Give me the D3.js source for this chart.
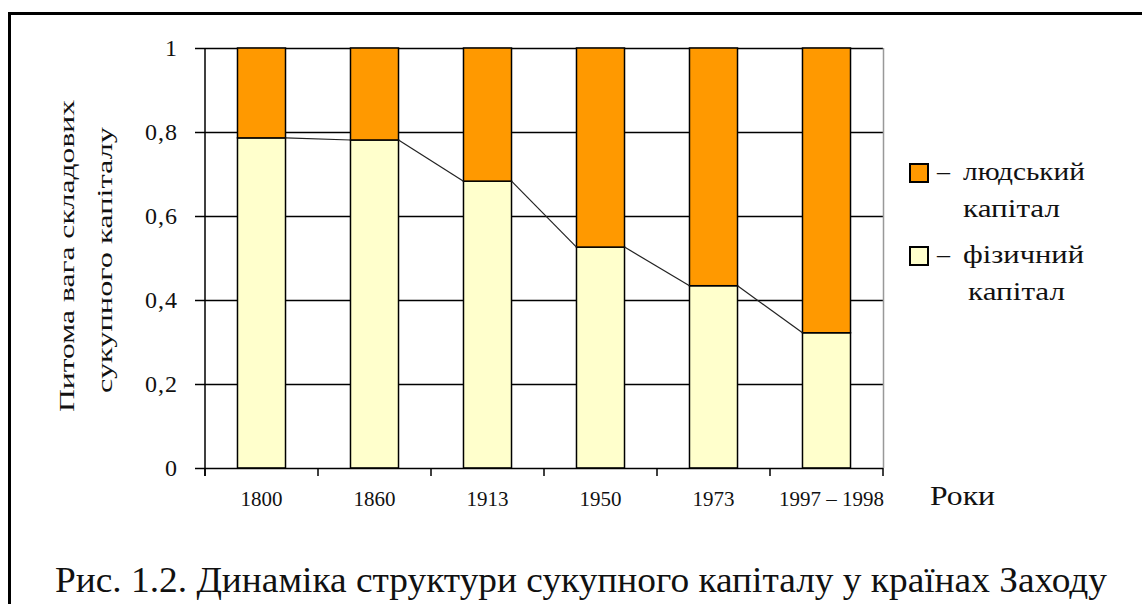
<!DOCTYPE html>
<html>
<head>
<meta charset="utf-8">
<script src="https://cdn.jsdelivr.net/npm/d3@7"></script>
<style>
  body { margin: 0; background: #fff; }
  svg { display: block; }
  text { font-family: "Liberation Serif", "Times New Roman", serif; fill: #111; }
</style>
</head>
<body>
<svg id="chart" width="1142" height="604"></svg>
<script>
// data
var years = ["1800", "1860", "1913", "1950", "1973", "1997 – 1998"];
var physical = [0.786, 0.781, 0.683, 0.526, 0.434, 0.322];
var human = [0.214, 0.219, 0.317, 0.474, 0.566, 0.678];
var yTicks = [0, 0.2, 0.4, 0.6, 0.8, 1];
var yTickLabels = ["0", "0,2", "0,4", "0,6", "0,8", "1"];
var legendNames = [["людський", "капітал"], ["фізичний", "капітал"]];
var colors = ["#FF9900", "#FFFFCC"];

(function()
{
	var svg = d3.select("#chart");

	var plotLeft = 205, plotRight = 883, plotTop = 48, plotBottom = 468;

	var x = d3.scaleBand()
		.domain(years)
		.range([plotLeft, plotRight])
		.paddingInner(0.575)
		.paddingOuter(0.2875);

	var slot = d3.scaleBand()
		.domain(years)
		.range([plotLeft, plotRight])
		.padding(0);

	var y = d3.scaleLinear()
		.domain([0, 1])
		.range([plotBottom, plotTop]);

	// outer frame (top and left only)
	svg.append("line")
		.attr("x1", 8).attr("y1", 13.5).attr("x2", 1142).attr("y2", 13.5)
		.attr("stroke", "#000").attr("stroke-width", 3);
	svg.append("line")
		.attr("x1", 9.5).attr("y1", 12).attr("x2", 9.5).attr("y2", 604)
		.attr("stroke", "#000").attr("stroke-width", 3);

	// gridlines
	svg.append("g")
		.selectAll("line")
		.data(yTicks.slice(1))
		.enter().append("line")
		.attr("x1", plotLeft).attr("x2", plotRight)
		.attr("y1", function(d) { return Math.round(y(d)) + 0.5; })
		.attr("y2", function(d) { return Math.round(y(d)) + 0.5; })
		.attr("stroke", "#000")
		.attr("stroke-width", 1.5);

	// right edge of the plot
	svg.append("line")
		.attr("x1", plotRight + 0.5).attr("x2", plotRight + 0.5)
		.attr("y1", plotTop).attr("y2", plotBottom)
		.attr("stroke", "#999").attr("stroke-width", 1.5);

	// stacked bars
	var stackData = years.map(function(yr, i) {
		return { year: yr, physical: physical[i], human: human[i] };
	});
	var series = d3.stack().keys(["physical", "human"])(stackData);
	var fillFor = { physical: colors[1], human: colors[0] };

	svg.append("g")
		.selectAll("g")
		.data(series)
		.enter().append("g")
		.attr("fill", function(s) { return fillFor[s.key]; })
		.selectAll("rect")
		.data(function(s) { return s; })
		.enter().append("rect")
		.attr("x", function(d) { return x(d.data.year); })
		.attr("width", x.bandwidth())
		.attr("y", function(d) { return y(d[1]); })
		.attr("height", function(d) { return y(d[0]) - y(d[1]); })
		.attr("stroke", "#000")
		.attr("stroke-width", 1.5);

	// series lines between bar tops
	for (var i = 0; i < years.length - 1; i++)
	{
		svg.append("line")
			.attr("x1", x(years[i]) + x.bandwidth())
			.attr("y1", y(physical[i]))
			.attr("x2", x(years[i + 1]))
			.attr("y2", y(physical[i + 1]))
			.attr("stroke", "#222")
			.attr("stroke-width", 1.2);
	}

	// y axis
	var yAxis = d3.axisLeft(y)
		.tickValues(yTicks)
		.tickSize(10)
		.tickPadding(12)
		.tickFormat(function(d, i) { return yTickLabels[i]; });

	var gy = svg.append("g")
		.attr("transform", "translate(" + plotLeft + ",0)")
		.call(yAxis);
	gy.attr("font-family", null).attr("font-size", null);
	gy.select(".domain").attr("stroke", "#000").attr("stroke-width", 1.5)
		.attr("d", "M0," + plotTop + "V" + (plotBottom + 8));
	gy.selectAll(".tick line").attr("stroke", "#000").attr("stroke-width", 1.5);
	gy.selectAll(".tick text")
		.style("font-size", "24px")
		.attr("fill", "#1a1a2a")
		.attr("dx", -5)
		.attr("letter-spacing", 1);

	// x axis
	var gx = svg.append("g")
		.attr("transform", "translate(0," + plotBottom + ")");
	gx.append("line")
		.attr("x1", plotLeft).attr("x2", plotRight)
		.attr("y1", 0.5).attr("y2", 0.5)
		.attr("stroke", "#000").attr("stroke-width", 1.5);
	gx.selectAll(".bound")
		.data(years.concat(["end"]))
		.enter().append("line")
		.attr("class", "bound")
		.attr("x1", function(d, i) { return i < years.length ? slot(d) : plotRight; })
		.attr("x2", function(d, i) { return i < years.length ? slot(d) : plotRight; })
		.attr("y1", 0).attr("y2", 8)
		.attr("stroke", "#000").attr("stroke-width", 1.5);
	gx.selectAll(".lbl")
		.data(years)
		.enter().append("text")
		.attr("class", "lbl")
		.attr("x", function(d, i) { return slot(d) + slot.bandwidth() / 2 + (i == years.length - 1 ? 5 : 0); })
		.attr("y", 38)
		.attr("text-anchor", "middle")
		.style("font-size", "21px")
		.attr("fill", "#1a1a2a")
		.text(function(d) { return d; });

	svg.append("text")
		.attr("x", 930).attr("y", 505)
		.style("font-size", "27px")
		.attr("textLength", 65)
		.attr("lengthAdjust", "spacingAndGlyphs")
		.text("Роки");

	// y axis title
	var title = svg.append("text")
		.attr("transform", "translate(74,256) rotate(-90)")
		.attr("text-anchor", "middle")
		.style("font-size", "22px");
	title.append("tspan").attr("x", 0).attr("y", 0)
		.attr("textLength", 312)
		.attr("lengthAdjust", "spacingAndGlyphs")
		.text("Питома вага складових");
	title.append("tspan").attr("x", -4).attr("y", 38)
		.attr("textLength", 266)
		.attr("lengthAdjust", "spacingAndGlyphs")
		.text("сукупного капіталу");

	// legend
	var legendTops = [164, 247];
	var legendLens = [[122, 97], [121, 97]];
	legendNames.forEach(function(names, i) {
		var g = svg.append("g").attr("transform", "translate(910," + legendTops[i] + ")");
		g.append("rect")
			.attr("x", 0).attr("y", 0).attr("width", 18).attr("height", 18)
			.attr("fill", colors[i]).attr("stroke", "#000").attr("stroke-width", 2);
		g.append("text")
			.attr("x", 27).attr("y", 16)
			.style("font-size", "26px")
			.text("–");
		g.append("text")
			.attr("x", 53).attr("y", 16)
			.style("font-size", "26px")
			.attr("textLength", legendLens[i][0])
			.attr("lengthAdjust", "spacingAndGlyphs")
			.text(names[0]);
		g.append("text")
			.attr("x", 53 + i * 5).attr("y", 53)
			.style("font-size", "26px")
			.attr("textLength", legendLens[i][1])
			.attr("lengthAdjust", "spacingAndGlyphs")
			.text(names[1]);
	});

	// caption
	svg.append("text")
		.attr("x", 55).attr("y", 592)
		.style("font-size", "35px")
		.attr("textLength", 1052)
		.attr("lengthAdjust", "spacingAndGlyphs")
		.attr("fill", "#000")
		.text("Рис. 1.2. Динаміка структури сукупного капіталу у країнах Заходу");
})();
</script>
</body>
</html>
